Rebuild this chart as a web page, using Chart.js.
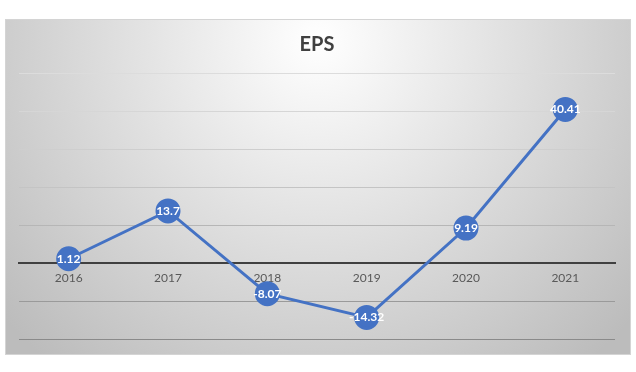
<!DOCTYPE html>
<html>
<head>
<meta charset="utf-8">
<script src="https://cdn.jsdelivr.net/npm/chart.js@4/dist/chart.umd.min.js"></script>
<style>
html,body{margin:0;padding:0;background:#ffffff;}
#wrap{width:636px;height:372px;position:relative;}
</style>
</head>
<body>
<div id="wrap"><canvas id="c" width="636" height="372"></canvas></div>
<script>
const categories = ['2016', '2017', '2018', '2019', '2020', '2021'];
const epsValues = [1.12, 13.7, -8.07, -14.32, 9.19, 40.41];
const yMin = -20;
const yMax = 50;
const yStep = 10;
const chartTitle = 'EPS';

const bgPlugin = {
  id: 'bgPlugin',
  beforeDraw(chart) {
    const ctx = chart.ctx;
    ctx.save();
    ctx.fillStyle = '#ffffff';
    ctx.fillRect(0, 0, chart.width, chart.height);
    const x0 = 5.5, y0 = 19.5, x1 = 630.5, y1 = 354.5;
    const g = ctx.createRadialGradient(318, 40, 0, 318, 40, 420);
    g.addColorStop(0, '#ffffff');
    g.addColorStop(1, '#bcbcbc');
    ctx.fillStyle = g;
    ctx.fillRect(x0, y0, x1 - x0, y1 - y0);
    ctx.strokeStyle = '#d4d4d4';
    ctx.lineWidth = 1;
    ctx.strokeRect(x0, y0, x1 - x0, y1 - y0);
    ctx.restore();
  }
};

const labelPlugin = {
  id: 'labelPlugin',
  afterDatasetsDraw(chart) {
    const ctx = chart.ctx;
    const meta = chart.getDatasetMeta(0);
    ctx.save();
    ctx.fillStyle = '#ffffff';
    ctx.font = 'bold 12px Lato, "Liberation Sans", sans-serif';
    ctx.textAlign = 'center';
    ctx.textBaseline = 'middle';
    meta.data.forEach((pt, i) => {
      ctx.fillText(String(chart.data.datasets[0].data[i]), pt.x, pt.y);
    });
    ctx.restore();
  }
};

const gridColors = {50:'#dcdcdc',40:'#d6d6d6',30:'#cecece',20:'#c4c4c4',10:'#b6b6b6',0:'rgba(0,0,0,0)','-10':'#9a9a9a','-20':'#8a8a8a'};

new Chart(document.getElementById('c'), {
  type: 'line',
  data: {
    labels: categories,
    datasets: [{
      label: 'EPS',
      data: epsValues,
      borderColor: '#4472C4',
      backgroundColor: '#4472C4',
      borderWidth: 3,
      pointRadius: 11,
      pointHoverRadius: 11,
      pointBackgroundColor: '#4472C4',
      pointBorderColor: '#4472C4',
      tension: 0
    }]
  },
  options: {
    responsive: false,
    animation: false,
    events: [],
    layout: { padding: { left: 19, right: 21, top: 0, bottom: 33 } },
    plugins: {
      legend: { display: false },
      tooltip: { enabled: false },
      title: {
        display: true,
        text: chartTitle,
        color: '#404040',
        font: { family: 'Lato, "Liberation Sans", sans-serif', size: 20, weight: 'bold' },
        padding: { top: 33, bottom: 16 }
      }
    },
    scales: {
      x: {
        type: 'category',
        position: { y: 0 },
        offset: true,
        grid: { display: false, drawTicks: false },
        border: { display: true, color: '#404040', width: 2 },
        ticks: {
          color: '#595959',
          font: { family: 'Lato, "Liberation Sans", sans-serif', size: 12 },
          padding: 8,
          maxRotation: 0
        }
      },
      y: {
        min: yMin,
        max: yMax,
        ticks: { display: false, stepSize: yStep },
        grid: {
          drawTicks: false,
          color: (c) => gridColors[c.tick ? c.tick.value : 0] || '#cccccc',
          lineWidth: 1
        },
        border: { display: false }
      }
    }
  },
  plugins: [bgPlugin, labelPlugin]
});
</script>
</body>
</html>
